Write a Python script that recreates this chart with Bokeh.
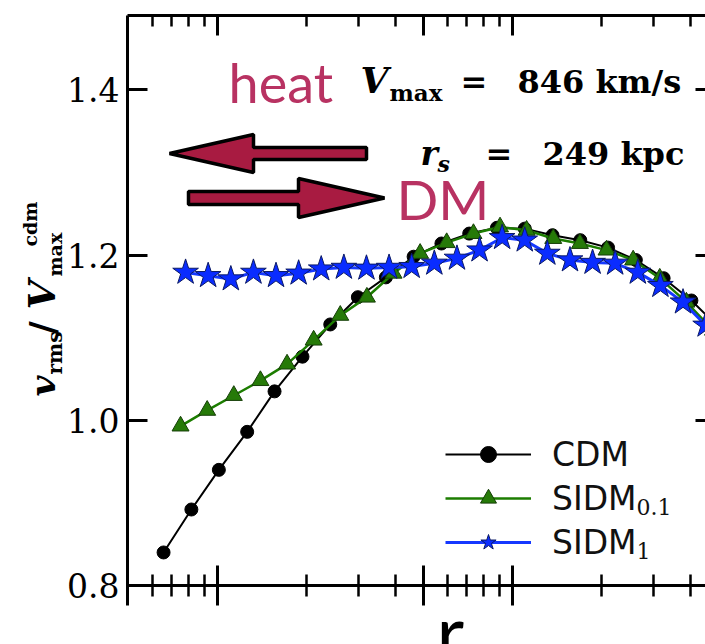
import numpy as np
from bokeh.plotting import figure
from bokeh.models import (LogAxis, LinearAxis, FixedTicker, Label, Legend, LegendItem,
                          PolyAnnotation, CustomJSTickFormatter, PrintfTickFormatter)
from bokeh.embed import file_html
from bokeh.resources import INLINE

# radial bins (kpc) and v_rms / V_max(cdm) for each run
r_cdm = [65.6, 81.5, 101, 126, 156, 194, 241, 299, 372, 462, 574, 713, 885, 1100,
         1366, 1697, 2108, 2618, 3252, 4040, 5018]
v_cdm = [0.840, 0.892, 0.940, 0.986, 1.035, 1.077, 1.116, 1.149, 1.173, 1.198, 1.214,
         1.226, 1.233, 1.232, 1.224, 1.218, 1.209, 1.194, 1.172, 1.145, 1.112]

r_sidm01 = [74.9, 92.2, 113.5, 139.7, 172, 211.7, 260.6, 320.8, 395, 486, 598, 737,
            907, 1116, 1374, 1692, 2083, 2564, 3156, 3885, 4783]
v_sidm01 = [0.993, 1.012, 1.030, 1.048, 1.068, 1.097, 1.127, 1.149, 1.178, 1.202, 1.215,
            1.226, 1.234, 1.230, 1.220, 1.214, 1.206, 1.194, 1.172, 1.143, 1.109]

r_sidm1 = [77.9, 92.9, 110.9, 132.3, 157.8, 188.3, 224.6, 268, 319.7, 381.4, 455, 543,
           648, 773, 922, 1100, 1312, 1566, 1868, 2228, 2659, 3172, 3784, 4515]
v_sidm1 = [1.179, 1.175, 1.171, 1.179, 1.175, 1.178, 1.183, 1.185, 1.184, 1.185, 1.186,
           1.190, 1.196, 1.206, 1.221, 1.218, 1.202, 1.194, 1.191, 1.190, 1.179, 1.163,
           1.143, 1.115]

x_major = [100, 500, 1000]
x_minor = [60, 70, 80, 90, 200, 300, 400, 600, 700, 800, 900, 2000, 3000, 4000]
y_ticks = [0.8, 1.0, 1.2, 1.4]

series_labels = ["CDM", "SIDM", "SIDM"]
series_subscripts = ["", "0.1", "1"]

# page geometry (pixels) and the data box drawn by the axes
W, H = 705, 644
FL, FR, FT, FB = 127, 705, 15, 585
X0, X1 = 49.5, 4510.0
Y0, Y1 = 0.8, 1.49


def xd(px):
    """page x pixel -> data x (log axis)"""
    return 10 ** (np.log10(X0) + (px - FL) / (FR - FL) * np.log10(X1 / X0))


def yd(py):
    """page y pixel (from top) -> data y"""
    return Y0 + (FB - py) / (FB - FT) * (Y1 - Y0)


# the plotting area spans the whole page; axes are pinned to the data box
p = figure(width=W, height=H, x_axis_type="log", x_range=(xd(0), xd(W)),
           y_range=(yd(H), yd(0)), output_backend="svg", toolbar_location=None,
           title=None, min_border_left=0, min_border_right=0, min_border_top=0,
           min_border_bottom=0)
p.outline_line_color = None
p.grid.visible = False
p.background_fill_color = "white"
p.border_fill_color = "white"

blank = CustomJSTickFormatter(code="return ''")

# bottom axis: ticks both in and out
xa = p.xaxis[0]
xa.fixed_location = Y0
xa.bounds = (X0, X1)
xa.ticker = FixedTicker(ticks=x_major, minor_ticks=x_minor)
xa.formatter = blank
xa.major_label_text_font_size = "0px"
xa.major_label_standoff = 0
xa.axis_line_width = 3
xa.major_tick_line_width = 3
xa.minor_tick_line_width = 2.5
xa.major_tick_in = 20
xa.major_tick_out = 20
xa.minor_tick_in = 11
xa.minor_tick_out = 11

# top axis
top = LogAxis(fixed_location=Y1, bounds=(X0, X1),
              ticker=FixedTicker(ticks=x_major, minor_ticks=x_minor), formatter=blank,
              major_label_text_font_size="0px", major_label_standoff=0,
              axis_line_width=3, major_tick_line_width=3, minor_tick_line_width=2.5,
              major_tick_in=20, major_tick_out=0, minor_tick_in=11, minor_tick_out=0)
p.add_layout(top, "above")

# left axis; its line runs a little below the bottom axis
ya = p.yaxis[0]
ya.fixed_location = X0
ya.bounds = (yd(605), Y1)
ya.ticker = FixedTicker(ticks=y_ticks, minor_ticks=[])
ya.formatter = PrintfTickFormatter(format="%.1f")
ya.major_label_text_font = "DejaVu Serif"
ya.major_label_text_font_size = "33px"
ya.major_label_text_color = "black"
ya.major_label_standoff = 8
ya.axis_line_width = 3
ya.major_tick_line_width = 3
ya.major_tick_in = 20
ya.major_tick_out = 0
ya.minor_tick_in = 0
ya.minor_tick_out = 0

# right side ticks only
right = LinearAxis(fixed_location=X1, bounds=(Y0, Y1),
                   ticker=FixedTicker(ticks=y_ticks, minor_ticks=[]), formatter=blank,
                   major_label_text_font_size="0px", major_label_standoff=0,
                   axis_line_color=None, major_tick_line_width=3,
                   major_tick_in=10, major_tick_out=0, minor_tick_in=0, minor_tick_out=0)
p.add_layout(right, "right")

# data
l_cdm = p.line(r_cdm, v_cdm, line_color="black", line_width=2)
s_cdm = p.scatter(r_cdm, v_cdm, marker="circle", size=13, fill_color="black",
                  line_color="black")
l_s01 = p.line(r_sidm01, v_sidm01, line_color="#1c7d00", line_width=2.5)
s_s01 = p.scatter(r_sidm01, v_sidm01, marker="triangle", size=17, fill_color="#267a08",
                  line_color="#163f08", line_width=1)
l_s1 = p.line(r_sidm1, v_sidm1, line_color="#1538ff", line_width=3)
s_s1 = p.scatter(r_sidm1, v_sidm1, marker="star", size=27, fill_color="#0a2cff",
                 line_color="#0b1a66", line_width=1)

legend = Legend(items=[LegendItem(label=series_labels[0], renderers=[l_cdm, s_cdm]),
                       LegendItem(label=series_labels[1], renderers=[l_s01, s_s01]),
                       LegendItem(label=series_labels[2], renderers=[l_s1, s_s1])],
                location=(445, H - 562), orientation="vertical",
                border_line_color=None, background_fill_alpha=0,
                label_text_font="DejaVu Sans", label_text_font_size="33px",
                label_text_color="#111111",
                glyph_width=86, glyph_height=40, label_height=40, label_standoff=21,
                spacing=4, padding=0, margin=0)
p.add_layout(legend)

pink = "#b83262"
crimson = "#a81b41"

# the alphabetic anchor lands a bit below the drawn baseline; lift by this
# fraction of the font size so (px, py) is where the glyph baseline sits
BASE_SHIFT = 0.37


def lab(px, py, text, font, size, style="normal", color="black", rotated=False):
    if rotated:
        px, angle = px - BASE_SHIFT * size, np.pi / 2
    else:
        py, angle = py - BASE_SHIFT * size, 0.0
    p.add_layout(Label(x=xd(px), y=yd(py), text=text, text_font=font,
                       text_font_size=f"{size}px", text_font_style=style,
                       text_color=color, text_baseline="alphabetic", text_align="left",
                       angle=angle))


# legend subscripts
sub_pos = [None, (636, 515), (636, 559)]
for sub, pos in zip(series_subscripts, sub_pos):
    if sub:
        lab(pos[0], pos[1], sub, "DejaVu Serif", 22, color="#111111")

# arrows
p.add_layout(PolyAnnotation(
    xs=[xd(169), xd(253), xd(253), xd(366), xd(366), xd(253), xd(253)],
    ys=[yd(153), yd(134), yd(147), yd(147), yd(159), yd(159), yd(172)],
    fill_color=crimson, fill_alpha=1, line_color="black", line_alpha=1, line_width=3.5))
p.add_layout(PolyAnnotation(
    xs=[xd(188), xd(298), xd(298), xd(384), xd(298), xd(298), xd(188)],
    ys=[yd(191), yd(191), yd(178), yd(197.5), yd(217), yd(204), yd(204)],
    fill_color=crimson, fill_alpha=1, line_color="black", line_alpha=1, line_width=3.5))

lab(228, 102, "heat", "Lato", 54, color=pink)
lab(396, 219, "DM", "Lato", 55, color=pink)

# halo parameters
lab(360, 93, "V", "DejaVu Serif", 36, "bold italic")
lab(389, 101, "max", "DejaVu Serif", 23, "bold")
lab(460, 93, "=", "DejaVu Serif", 32, "bold")
lab(517, 93, "846 km/s", "DejaVu Serif", 32, "bold")
lab(420, 165, "r", "DejaVu Serif", 33, "bold italic")
lab(437, 172, "s", "DejaVu Serif", 22, "bold italic")
lab(485, 165, "=", "DejaVu Serif", 32, "bold")
lab(542, 165, "249 kpc", "DejaVu Serif", 32, "bold")

# rotated y label: v_rms / V_max^cdm
lab(55, 396, "v", "DejaVu Serif", 36, "bold italic", rotated=True)
lab(62, 374, "rms", "DejaVu Serif", 20, "bold", rotated=True)
lab(55, 334, "/", "DejaVu Serif", 36, "bold", rotated=True)
lab(55, 309, "V", "DejaVu Serif", 38, "bold italic", rotated=True)
lab(62, 276, "max", "DejaVu Serif", 19, "bold", rotated=True)
lab(37, 246, "cdm", "DejaVu Serif", 19, "bold", rotated=True)

# x label
lab(436, 658, "r", "Lato", 76)

open("out.html", "w").write(file_html(p, INLINE))
